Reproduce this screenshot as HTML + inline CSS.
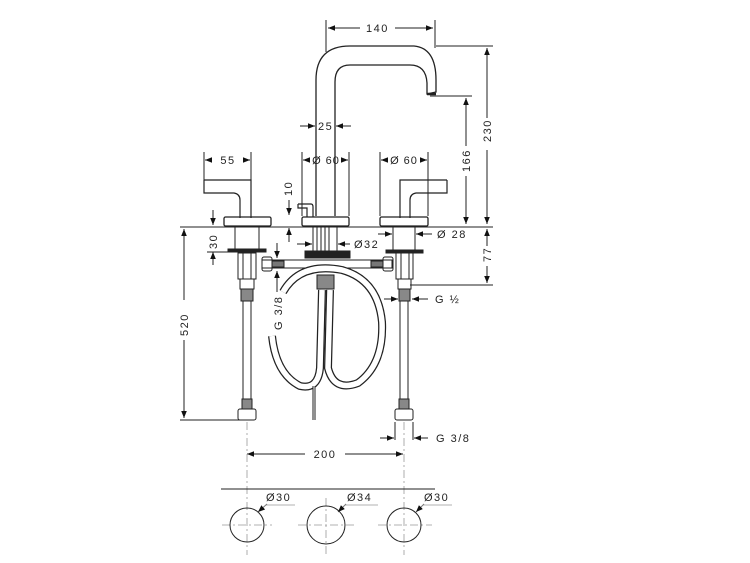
<!DOCTYPE html>
<html><head><style>
html,body{margin:0;padding:0;background:#fff;}
svg{display:block;}
text{font-family:"Liberation Sans",sans-serif;font-size:11px;fill:#222;letter-spacing:1.5px;}
</style></head><body>
<svg width="750" height="563" viewBox="0 0 750 563" xmlns="http://www.w3.org/2000/svg">
<defs>
<marker id="a" viewBox="0 0 10 10" refX="10" refY="5" markerWidth="7" markerHeight="7" orient="auto-start-reverse"><path d="M0,1 L10,5 L0,9z" fill="#111"/></marker>
</defs>
<g fill="none" stroke="#222" stroke-width="1">
<path d="M316,216 L316,80 Q316,46 350,46 L414,46 Q436,48 436,80 L436,92 L427,94 L427,83 Q426,65 410,65 L350,65 Q335,65 335,82 L335,216" stroke-width="1.3"/>
<line x1="427" y1="94" x2="436" y2="94" stroke-width="2.5"/>
<line x1="326" y1="20" x2="326" y2="52"/><line x1="435" y1="20" x2="435" y2="48"/>
<line x1="328" y1="28" x2="360" y2="28" marker-start="url(#a)"/><line x1="395" y1="28" x2="433" y2="28" marker-end="url(#a)"/>
<line x1="436" y1="46" x2="493" y2="46"/>
<line x1="487" y1="48" x2="487" y2="118" marker-start="url(#a)"/><line x1="487" y1="150" x2="487" y2="224" marker-end="url(#a)"/>
<line x1="430" y1="96" x2="472" y2="96"/>
<line x1="466" y1="98" x2="466" y2="146" marker-start="url(#a)"/><line x1="466" y1="176" x2="466" y2="224" marker-end="url(#a)"/>
<line x1="300" y1="126" x2="315" y2="126" marker-end="url(#a)"/><line x1="351" y1="126" x2="336" y2="126" marker-end="url(#a)"/>
<line x1="302" y1="152" x2="302" y2="216"/><line x1="349" y1="152" x2="349" y2="216"/>
<line x1="309" y1="160" x2="303" y2="160" marker-end="url(#a)"/><line x1="342" y1="160" x2="348" y2="160" marker-end="url(#a)"/>
<line x1="380" y1="152" x2="380" y2="216"/><line x1="428" y1="152" x2="428" y2="216"/>
<line x1="387" y1="160" x2="381" y2="160" marker-end="url(#a)"/><line x1="421" y1="160" x2="427" y2="160" marker-end="url(#a)"/>
<line x1="204" y1="152" x2="204" y2="180"/><line x1="251" y1="152" x2="251" y2="180"/>
<line x1="212" y1="160" x2="205" y2="160" marker-end="url(#a)"/><line x1="243" y1="160" x2="250" y2="160" marker-end="url(#a)"/>
<path d="M204,180 L251,180 L251,218 M204,180 L204,193 L234,193 Q240,194 240,200 L240,218" stroke-width="1.2"/>
<path d="M447,180 L400,180 L400,218 M447,180 L447,193 L416,193 Q410,194 410,200 L410,218" stroke-width="1.2"/>
<rect x="224" y="217" width="47" height="9" rx="1.5" stroke-width="1.3"/>
<rect x="302" y="217" width="47" height="9" rx="1.5" stroke-width="1.3"/>
<rect x="380" y="217" width="48" height="9" rx="1.5" stroke-width="1.3"/>
<path d="M298,204 L311,204 Q313,204 313,207 L313,217 M298,204 L298,208 L307,208 L307,217" stroke-width="1.2"/>
<line x1="180" y1="227" x2="493" y2="227"/>
<rect x="235" y="227" width="24" height="22"/>
<rect x="228" y="249" width="38" height="3" fill="#222"/>
<rect x="238" y="253" width="18" height="26"/><line x1="243" y1="253" x2="243" y2="279"/><line x1="251" y1="253" x2="251" y2="279"/>
<rect x="240" y="279" width="14" height="10"/>
<rect x="241" y="289" width="12" height="12" fill="#888"/>
<rect x="243" y="301" width="8" height="98"/>
<rect x="242" y="399" width="10" height="10" fill="#888"/>
<rect x="238" y="409" width="18" height="11" rx="2"/>
<rect x="393" y="227" width="22" height="23"/>
<rect x="386" y="250" width="37" height="3" fill="#222"/>
<rect x="396" y="253" width="17" height="26"/><line x1="401" y1="253" x2="401" y2="279"/><line x1="409" y1="253" x2="409" y2="279"/>
<rect x="398" y="279" width="13" height="10"/>
<rect x="399" y="289" width="11" height="12" fill="#888"/>
<rect x="400" y="301" width="8" height="98"/>
<rect x="399" y="399" width="10" height="10" fill="#888"/>
<rect x="395" y="409" width="18" height="11" rx="2"/>
<rect x="313" y="227" width="24" height="24"/>
<line x1="317" y1="227" x2="317" y2="251"/><line x1="321" y1="227" x2="321" y2="251"/><line x1="325" y1="227" x2="325" y2="251"/><line x1="329" y1="227" x2="329" y2="251"/>
<rect x="305" y="251" width="45" height="7" fill="#222"/>
<rect x="262" y="260" width="130" height="8"/>
<rect x="262" y="257" width="10" height="14" rx="2"/><rect x="383" y="257" width="10" height="14" rx="2"/>
<rect x="272" y="261" width="12" height="6" fill="#777"/><rect x="371" y="261" width="12" height="6" fill="#777"/>
<path d="M322,290 L320,368 Q318,390 300,386 Q276,374 272,336" stroke-width="8"/>
<path d="M322,290 L320,368 Q318,390 300,386 Q276,374 272,336" stroke="#fff" stroke-width="5.5"/>
<path d="M330,290 L328,368 Q334,392 358,383 Q384,364 382,322 Q378,280 342,270 Q300,262 283,292" stroke-width="8"/>
<path d="M330,290 L328,368 Q334,392 358,383 Q384,364 382,322 Q378,280 342,270 Q300,262 283,292" stroke="#fff" stroke-width="5.5"/>
<rect x="317" y="275" width="17" height="14" fill="#888"/>
<line x1="314" y1="386" x2="314" y2="420" stroke-width="3"/>
<line x1="314" y1="386" x2="314" y2="420" stroke="#fff" stroke-width="1"/>
<line x1="180" y1="420" x2="245" y2="420"/>
<line x1="184" y1="229" x2="184" y2="300" marker-start="url(#a)"/><line x1="184" y1="340" x2="184" y2="418" marker-end="url(#a)"/>
<line x1="213" y1="210" x2="213" y2="225" marker-end="url(#a)"/><line x1="213" y1="265" x2="213" y2="252" marker-end="url(#a)"/>
<line x1="207" y1="252" x2="228" y2="252"/>
<line x1="289" y1="200" x2="289" y2="215" marker-end="url(#a)"/><line x1="289" y1="242" x2="289" y2="228" marker-end="url(#a)"/>
<line x1="277" y1="243" x2="277" y2="258" marker-end="url(#a)"/><line x1="277" y1="292" x2="277" y2="271" marker-end="url(#a)"/>
<line x1="297" y1="244" x2="312" y2="244" marker-end="url(#a)"/><line x1="350" y1="244" x2="338" y2="244" marker-end="url(#a)"/>
<line x1="378" y1="234" x2="392" y2="234" marker-end="url(#a)"/><line x1="432" y1="234" x2="416" y2="234" marker-end="url(#a)"/>
<line x1="410" y1="285" x2="493" y2="285"/>
<line x1="487" y1="229" x2="487" y2="246" marker-start="url(#a)"/><line x1="487" y1="266" x2="487" y2="283" marker-end="url(#a)"/>
<line x1="384" y1="299" x2="398" y2="299" marker-end="url(#a)"/><line x1="428" y1="299" x2="412" y2="299" marker-end="url(#a)"/>
<line x1="395" y1="422" x2="395" y2="440"/><line x1="413" y1="422" x2="413" y2="440"/>
<line x1="380" y1="438" x2="394" y2="438" marker-end="url(#a)"/><line x1="428" y1="438" x2="414" y2="438" marker-end="url(#a)"/>
<line x1="247" y1="454" x2="305" y2="454" marker-start="url(#a)"/><line x1="345" y1="454" x2="403" y2="454" marker-end="url(#a)"/>
<g stroke="#999" stroke-dasharray="8,3,2,3" stroke-width="0.8">
<line x1="247" y1="422" x2="247" y2="555"/><line x1="404" y1="422" x2="404" y2="555"/>
<line x1="326" y1="498" x2="326" y2="555"/>
<line x1="222" y1="525" x2="272" y2="525"/><line x1="298" y1="525" x2="354" y2="525"/><line x1="378" y1="525" x2="432" y2="525"/>
</g>
<line x1="221" y1="489" x2="435" y2="489"/>
<circle cx="247" cy="525" r="17"/><circle cx="326" cy="525" r="19"/><circle cx="404" cy="525" r="17"/>
<g stroke="#999" stroke-width="0.8">
<line x1="266" y1="505" x2="295" y2="505"/><line x1="345" y1="505" x2="378" y2="505"/><line x1="423" y1="505" x2="452" y2="505"/>
</g>
<line x1="267" y1="504" x2="258" y2="512" marker-end="url(#a)" stroke="#777"/>
<line x1="346" y1="504" x2="338" y2="512" marker-end="url(#a)" stroke="#777"/>
<line x1="424" y1="504" x2="416" y2="512" marker-end="url(#a)" stroke="#777"/>
</g>
<text x="366" y="32">140</text>
<text transform="translate(491,142) rotate(-90)">230</text>
<text transform="translate(470,172) rotate(-90)">166</text>
<text x="318" y="130">25</text>
<text x="326" y="164" text-anchor="middle" style="letter-spacing:1px">Ø 60</text>
<text x="404" y="164" text-anchor="middle" style="letter-spacing:1px">Ø 60</text>
<text x="228" y="164" text-anchor="middle">55</text>
<text transform="translate(292,196) rotate(-90)">10</text>
<text transform="translate(217,249) rotate(-90)">30</text>
<text x="354" y="248">Ø32</text>
<text x="437" y="238">Ø 28</text>
<text transform="translate(491,262) rotate(-90)">77</text>
<text transform="translate(188,336) rotate(-90)">520</text>
<text transform="translate(282,330) rotate(-90)">G 3/8</text>
<text x="435" y="303">G ½</text>
<text x="436" y="442">G 3/8</text>
<text x="325" y="458" text-anchor="middle">200</text>
<text x="266" y="501" fill="#444">Ø30</text>
<text x="347" y="501" fill="#444">Ø34</text>
<text x="424" y="501" fill="#444">Ø30</text>
</svg>
</body></html>
